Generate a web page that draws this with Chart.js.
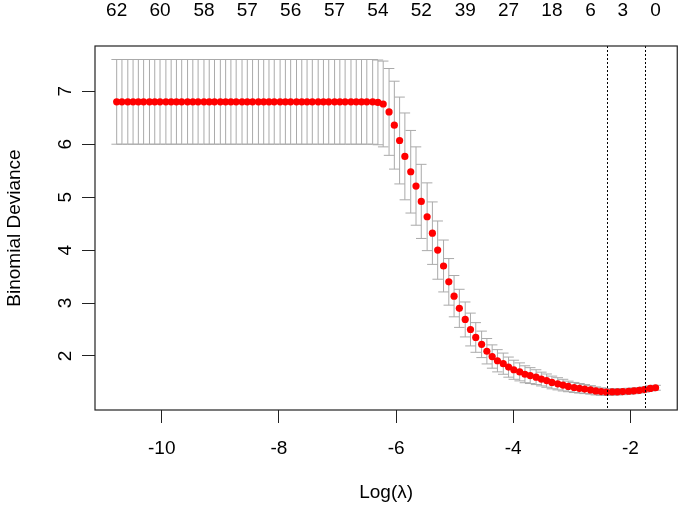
<!DOCTYPE html>
<html>
<head>
<meta charset="utf-8">
<script src="https://cdn.jsdelivr.net/npm/chart.js@4.4.1/dist/chart.umd.min.js"></script>
<style>
  html, body { margin: 0; padding: 0; background: #fff; }
</style>
</head>
<body>
<canvas id="cvPlot" width="685" height="506"></canvas>
<script>
// log(lambda) path, 100 values
const logLambda = [
  -10.77, -10.68, -10.58, -10.49, -10.40, -10.31, -10.21, -10.12, -10.03, -9.93,
  -9.84, -9.75, -9.66, -9.56, -9.47, -9.38, -9.28, -9.19, -9.10, -9.00,
  -8.91, -8.82, -8.73, -8.63, -8.54, -8.45, -8.35, -8.26, -8.17, -8.08,
  -7.98, -7.89, -7.80, -7.70, -7.61, -7.52, -7.43, -7.33, -7.24, -7.15,
  -7.05, -6.96, -6.87, -6.77, -6.68, -6.59, -6.50, -6.40, -6.31, -6.22,
  -6.12, -6.03, -5.94, -5.85, -5.75, -5.66, -5.57, -5.47, -5.38, -5.29,
  -5.19, -5.10, -5.01, -4.92, -4.82, -4.73, -4.64, -4.54, -4.45, -4.36,
  -4.27, -4.17, -4.08, -3.99, -3.89, -3.80, -3.71, -3.61, -3.52, -3.43,
  -3.34, -3.24, -3.15, -3.06, -2.96, -2.87, -2.78, -2.68, -2.59, -2.50,
  -2.41, -2.31, -2.22, -2.13, -2.03, -1.94, -1.85, -1.76, -1.66, -1.57
];

// mean cross-validated deviance
const cvMean = [
  6.80, 6.80, 6.80, 6.80, 6.80, 6.80, 6.80, 6.80, 6.80, 6.80,
  6.80, 6.80, 6.80, 6.80, 6.80, 6.80, 6.80, 6.80, 6.80, 6.80,
  6.80, 6.80, 6.80, 6.80, 6.80, 6.80, 6.80, 6.80, 6.80, 6.80,
  6.80, 6.80, 6.80, 6.80, 6.80, 6.80, 6.80, 6.80, 6.80, 6.80,
  6.80, 6.80, 6.80, 6.80, 6.80, 6.80, 6.80, 6.80, 6.79, 6.76,
  6.61, 6.36, 6.07, 5.77, 5.48, 5.21, 4.92, 4.63, 4.32, 4.00,
  3.70, 3.40, 3.13, 2.90, 2.69, 2.50, 2.35, 2.22, 2.09, 1.99,
  1.91, 1.855, 1.79, 1.74, 1.70, 1.655, 1.63, 1.60, 1.565, 1.535,
  1.50, 1.475, 1.45, 1.425, 1.405, 1.39, 1.375, 1.36, 1.34, 1.328,
  1.32, 1.321, 1.324, 1.328, 1.334, 1.342, 1.352, 1.366, 1.388, 1.40
];

// standard error of the deviance
const cvSd = [
  0.80, 0.80, 0.80, 0.80, 0.80, 0.80, 0.80, 0.80, 0.80, 0.80,
  0.80, 0.80, 0.80, 0.80, 0.80, 0.80, 0.80, 0.80, 0.80, 0.80,
  0.80, 0.80, 0.80, 0.80, 0.80, 0.80, 0.80, 0.80, 0.80, 0.80,
  0.80, 0.80, 0.80, 0.80, 0.80, 0.80, 0.80, 0.80, 0.80, 0.80,
  0.80, 0.80, 0.80, 0.80, 0.80, 0.80, 0.80, 0.80, 0.80, 0.81,
  0.82, 0.83, 0.82, 0.82, 0.78, 0.74, 0.70, 0.64, 0.59, 0.55,
  0.49, 0.44, 0.39, 0.36, 0.33, 0.31, 0.28, 0.25, 0.24, 0.22,
  0.21, 0.20, 0.19, 0.18, 0.17, 0.16, 0.15, 0.14, 0.13, 0.125,
  0.12, 0.115, 0.11, 0.10, 0.095, 0.09, 0.085, 0.08, 0.075, 0.07,
  0.065, 0.062, 0.06, 0.058, 0.056, 0.054, 0.052, 0.05, 0.048, 0.046
];

// number of non-zero coefficients shown on the top axis
const nonZero = ["62", "60", "58", "57", "56", "57", "54", "52", "39", "27", "18", "6", "3", "0"];
const nonZeroIdx = [0, 8, 16, 24, 32, 40, 48, 56, 64, 72, 80, 87, 93, 99];

const xTicks = [-10, -8, -6, -4, -2];
const yTicks = [2, 3, 4, 5, 6, 7];
const lambdaMin = -2.40;
const lambda1se = -1.75;

const xMin = -11.14, xMax = -1.20;
const yMin = 0.98, yMax = 7.855;
const capHalf = 0.09;
const FONT = { family: "'Liberation Sans', Arial, sans-serif", size: 19 };

// grey error bars under the points
const errorBars = {
  id: 'errorBars',
  beforeDatasetsDraw(chart) {
    const { ctx, scales: { x, y } } = chart;
    ctx.save();
    ctx.strokeStyle = '#aaaaaa';
    ctx.lineWidth = 1;
    logLambda.forEach((lx, i) => {
      const px = x.getPixelForValue(lx);
      const w = x.getPixelForValue(lx + capHalf) - px;
      const top = y.getPixelForValue(cvMean[i] + cvSd[i]);
      const bot = y.getPixelForValue(cvMean[i] - cvSd[i]);
      ctx.beginPath();
      ctx.moveTo(px, top); ctx.lineTo(px, bot);
      ctx.moveTo(px - w, top); ctx.lineTo(px + w, top);
      ctx.moveTo(px - w, bot); ctx.lineTo(px + w, bot);
      ctx.stroke();
    });
    ctx.restore();
  }
};

// dotted lambda lines, frame and rotated y tick labels
const frame = {
  id: 'frame',
  afterDraw(chart) {
    const { ctx, chartArea: a, scales: { x, y } } = chart;
    ctx.save();
    ctx.strokeStyle = '#000';
    ctx.lineWidth = 1;
    ctx.setLineDash([2, 2]);
    [lambdaMin, lambda1se].forEach(v => {
      const px = Math.round(x.getPixelForValue(v)) + 0.5;
      ctx.beginPath();
      ctx.moveTo(px, a.top);
      ctx.lineTo(px, a.bottom);
      ctx.stroke();
    });
    ctx.setLineDash([]);
    ctx.strokeStyle = '#222';
    ctx.lineWidth = 1.2;
    ctx.strokeRect(a.left, a.top, a.right - a.left, a.bottom - a.top);

    ctx.fillStyle = '#000';
    ctx.font = FONT.size + 'px ' + FONT.family;
    ctx.textAlign = 'center';
    ctx.textBaseline = 'middle';
    y.ticks.forEach(t => {
      ctx.save();
      ctx.translate(a.left - 29, y.getPixelForValue(t.value));
      ctx.rotate(-Math.PI / 2);
      ctx.fillText(String(t.value), 0, 0);
      ctx.restore();
    });
    ctx.restore();
  }
};

new Chart(document.getElementById('cvPlot'), {
  type: 'scatter',
  data: {
    datasets: [{
      data: logLambda.map((v, i) => ({ x: v, y: cvMean[i] })),
      backgroundColor: '#ff0000',
      borderWidth: 0,
      pointRadius: 3.6,
      pointHoverRadius: 3.6
    }]
  },
  options: {
    responsive: false,
    animation: false,
    devicePixelRatio: 1,
    layout: { padding: { left: 0, right: 2, top: 0, bottom: 0 } },
    plugins: { legend: { display: false }, tooltip: { enabled: false } },
    scales: {
      x: {
        type: 'linear', position: 'bottom', min: xMin, max: xMax,
        afterBuildTicks: s => { s.ticks = xTicks.map(v => ({ value: v })); },
        afterFit: s => { s.height = 96; },
        ticks: { font: FONT, color: '#000', padding: 14, maxRotation: 0, autoSkip: false },
        grid: { drawOnChartArea: false, drawTicks: true, tickLength: 13, color: '#222', lineWidth: 1 },
        border: { display: false },
        title: { display: true, text: 'Log(λ)', font: FONT, color: '#000', padding: { top: 0, bottom: 2 } }
      },
      x2: {
        type: 'linear', position: 'top', min: xMin, max: xMax,
        afterBuildTicks: s => { s.ticks = nonZeroIdx.map(i => ({ value: logLambda[i] })); },
        afterFit: s => { s.height = 46; },
        ticks: { font: FONT, color: '#000', padding: 24, maxRotation: 0, autoSkip: false,
                 callback: (v, i) => nonZero[i] },
        grid: { display: false, drawTicks: false },
        border: { display: false }
      },
      y: {
        type: 'linear', position: 'left', min: yMin, max: yMax,
        afterBuildTicks: s => { s.ticks = yTicks.map(v => ({ value: v })); },
        afterFit: s => { s.width = 95; },
        ticks: { display: false },
        grid: { drawOnChartArea: false, drawTicks: true, tickLength: 13, color: '#222', lineWidth: 1 },
        border: { display: false },
        title: { display: true, text: 'Binomial Deviance', font: FONT, color: '#000', padding: { top: 3, bottom: 0 } }
      }
    }
  },
  plugins: [errorBars, frame]
});
</script>
</body>
</html>
